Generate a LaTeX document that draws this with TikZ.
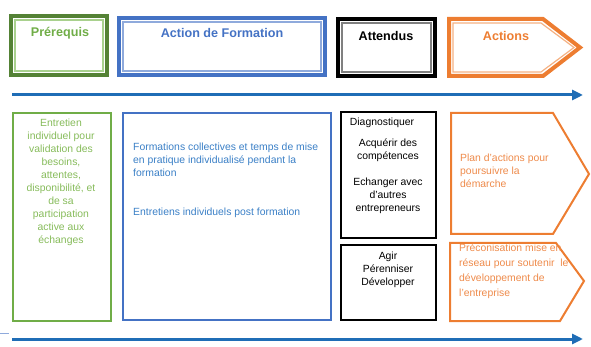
\documentclass[tikz,border=0pt]{standalone}
\usepackage{fontspec}
\setmainfont{Liberation Sans}
\usepackage{tkz-euclide}
\usetikzlibrary{arrows.meta}

\definecolor{vertfonce}{HTML}{548235}
\definecolor{vertclair}{HTML}{A9D18E}
\definecolor{vert}{HTML}{70AD47}
\definecolor{verttexte}{HTML}{86BB5A}
\definecolor{bleu}{HTML}{4472C4}
\definecolor{bleuclair}{HTML}{8FAADC}
\definecolor{bleutexte}{HTML}{3A7FC6}
\definecolor{fleche}{HTML}{1F6DB6}
\definecolor{orange}{HTML}{ED7D31}
\definecolor{orangeclair}{HTML}{F4B183}
\definecolor{orangetexte}{HTML}{EE8A4A}

\begin{document}
\begin{tikzpicture}[x=1pt,y=-1pt,
	titre/.style={font=\fontsize{12.6}{14}\selectfont\bfseries},
	corps/.style={font=\fontsize{10.4}{13}\selectfont,inner sep=0pt}]
	\useasboundingbox (0,0) rectangle (591,347);

	% en-tetes
	\draw[vertfonce,line width=4pt] (11,16) rectangle (107,75);
	\draw[vertclair,line width=1.2pt] (15,20) rectangle (103,71);
	\draw[bleu,line width=4pt] (119,18) rectangle (325,75);
	\draw[bleuclair,line width=1.2pt] (123,22) rectangle (321,71);
	\draw[black,line width=4pt] (338,19) rectangle (435,76);
	\draw[gray,line width=1.2pt] (342,23) rectangle (431,72);
	\draw[orange,line width=4pt] (449,19) -- (543,19) -- (580,47.5) -- (543,76) -- (449,76) -- cycle;
	\draw[orangeclair,line width=1.2pt] (453,23) -- (541,23) -- (574,47.5) -- (541,72) -- (453,72) -- cycle;

	\node[titre,text=vert] (prereq) at (60,33) {Prérequis};
	\node[titre,text=bleu] (action) at (222,33) {Action de Formation};
	\node[titre,text=black] (attendus) at (386,36) {Attendus};
	\node[titre,text=orange] (actions) at (506,36) {Actions};

	% fleches
	\tkzDefPoint(12,95){a1}
	\tkzDefPoint(583,95){a2}
	\tkzDefPoint(12,339){b1}
	\tkzDefPoint(583,339){b2}
	\tkzDefPoint(0,333){c1}
	\tkzDefPoint(9,333){c2}

	\draw[-{Triangle[length=11pt,width=10pt]},color=fleche,line width=3pt] (a1) -- (a2);
	\draw[-{Triangle[length=11pt,width=10pt]},color=fleche,line width=3pt] (b1) -- (b2);
	\draw[color=bleuclair,line width=0.8pt] (c1) -- (c2);

	% colonnes
	\draw[vert,line width=2pt] (13,113) rectangle (111,321);
	\draw[bleu,line width=2pt] (123,113) rectangle (331,320);
	\draw[black,line width=2.4pt] (341,112) rectangle (436,238);
	\draw[black,line width=2.4pt] (341,245) rectangle (436,320);
	\draw[orange,line width=2pt] (451,113) -- (553,113) -- (589,174) -- (553,234) -- (451,234) -- cycle;
	\draw[orange,line width=2pt] (450,243) -- (556,243) -- (584,281) -- (560,321) -- (450,321) -- cycle;

	\node[corps,text=verttexte,align=center] (entretien) at (61,182)
		{Entretien\\individuel pour\\validation des\\besoins,\\attentes,\\disponibilité, et\\de sa\\participation\\active aux\\échanges};

	\node[corps,text=bleutexte,align=left,anchor=west] (formations) at (133,160)
		{Formations collectives et temps de mise\\en pratique individualisé pendant la\\formation};
	\node[corps,text=bleutexte,anchor=west] (postform) at (133,213)
		{Entretiens individuels post formation};

	\node[corps,align=center] (diag) at (382,123) {Diagnostiquer};
	\node[corps,align=center] (acquerir) at (388,150) {Acquérir des\\compétences};
	\node[corps,align=center] (echanger) at (388,196) {Echanger avec\\d'autres\\entrepreneurs};
	\node[corps,align=center] (agir) at (388,270) {Agir\\Pérenniser\\Développer};

	\node[corps,text=orangetexte,align=left,anchor=west] (plan) at (460,171)
		{Plan d'actions pour\\poursuivre la\\démarche};
	\node[corps,text=orangetexte,align=left,anchor=west,font=\fontsize{10.4}{15}\selectfont] (precon) at (459,271)
		{Préconisation mise en\\réseau pour soutenir\ \ le\\développement de\\l'entreprise};
\end{tikzpicture}
\end{document}
